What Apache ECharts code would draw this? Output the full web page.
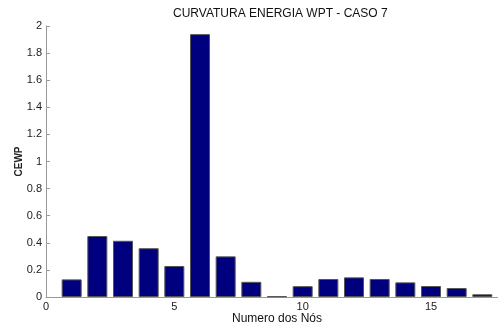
<!DOCTYPE html>
<html><head><meta charset="utf-8">
<script src="https://cdn.jsdelivr.net/npm/echarts@6/dist/echarts.min.js"></script>
<style>html,body{margin:0;padding:0;background:#fff}#c{width:498px;height:326px}</style>
</head><body><div id="c"></div>
<script>
const nodes = [1,2,3,4,5,6,7,8,9,10,11,12,13,14,15,16,17];
const cewp = [0.13,0.45,0.415,0.36,0.229,1.94,0.30,0.112,0.005,0.08,0.133,0.145,0.133,0.108,0.081,0.066,0.02];
const title = 'CURVATURA ENERGIA WPT - CASO 7';
const xName = 'Numero dos Nós';
const yName = 'CEWP';

const chart = echarts.init(document.getElementById('c'), null, {renderer:'canvas'});
const font = 'Liberation Sans, Arial, sans-serif';
chart.setOption({
  animation:false,
  title:{text:title,left:168,top:3,textStyle:{fontFamily:font,fontSize:12,fontWeight:'normal',color:'#111'}},
  grid:{left:46,top:26,bottom:29,right:-10,containLabel:false,outerBoundsMode:'none'},
  xAxis:{type:'value',min:0,max:18,interval:5,
    name:xName,nameLocation:'middle',nameGap:16,nameMoveOverlap:false,
    nameTextStyle:{fontFamily:font,fontSize:12,color:'#111'},
    axisLine:{lineStyle:{color:'#999'}},
    axisTick:{show:true,inside:true,length:4,lineStyle:{color:'#999'}},
    axisLabel:{fontFamily:font,fontSize:11,color:'#222',margin:4,showMaxLabel:false},
    splitLine:{show:false}},
  yAxis:{type:'value',min:0,max:2,interval:0.2,
    name:yName,nameLocation:'middle',nameGap:22,nameRotate:90,nameMoveOverlap:false,
    nameTextStyle:{fontFamily:font,fontSize:10,fontWeight:'bold',color:'#222'},
    axisLine:{show:true,lineStyle:{color:'#999'}},
    axisTick:{show:true,inside:true,length:4,lineStyle:{color:'#999'}},
    axisLabel:{fontFamily:font,fontSize:11,color:'#222',margin:4,formatter:v=>String(+v.toFixed(1))},
    splitLine:{show:false}},
  series:[{type:'bar',data:nodes.map((n,i)=>[n,cewp[i]]),barWidth:20,
    itemStyle:{color:'#00007f',borderColor:'#555',borderWidth:1}}]
});
</script></body></html>
